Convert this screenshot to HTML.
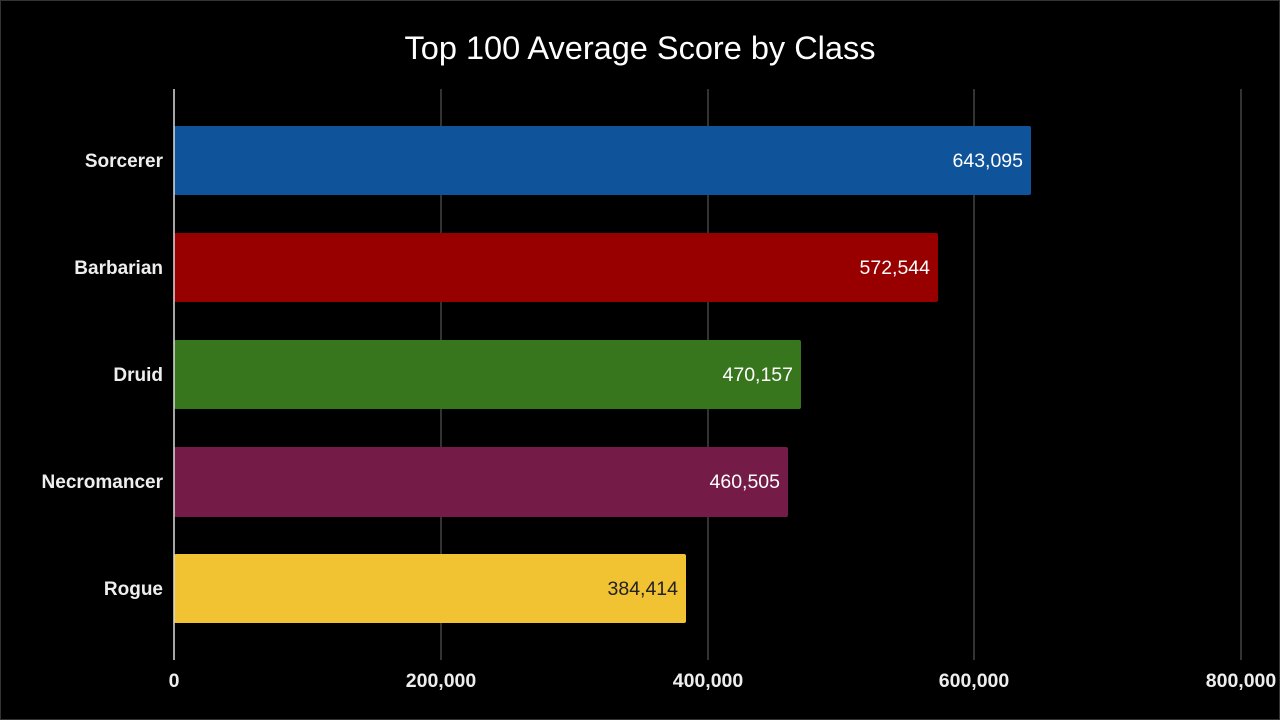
<!DOCTYPE html>
<html><head><style>
html,body{margin:0;padding:0;background:#000;}
svg{display:block;}
text{font-family:"Liberation Sans",Arial,sans-serif;}
</style></head><body>
<svg width="1280" height="720" viewBox="0 0 1280 720">
<rect x="0" y="0" width="1280" height="720" fill="#000"/>
<rect x="0.5" y="0.5" width="1279" height="719" fill="none" stroke="#333" stroke-width="1"/>
<text x="640" y="59" fill="#fff" font-size="32.5" text-anchor="middle">Top 100 Average Score by Class</text>
<g stroke="#444" stroke-width="1.5">
<line x1="441" y1="89" x2="441" y2="660"/>
<line x1="708" y1="89" x2="708" y2="660"/>
<line x1="974" y1="89" x2="974" y2="660"/>
<line x1="1241" y1="89" x2="1241" y2="660"/>
</g>
<rect x="174" y="126" width="857" height="69" fill="#0f549a" rx="2"/>
<rect x="174" y="233" width="764" height="69" fill="#980000" rx="2"/>
<rect x="174" y="340" width="627" height="69" fill="#38761d" rx="2"/>
<rect x="174" y="447" width="614" height="70" fill="#741b47" rx="2"/>
<rect x="174" y="554" width="512" height="69" fill="#f1c232" rx="2"/>
<line x1="174" y1="89" x2="174" y2="660" stroke="#ddd" stroke-width="1.5"/>
<g font-size="19.5" text-anchor="end">
<text x="1023" y="167" fill="#fff">643,095</text>
<text x="930" y="274" fill="#fff">572,544</text>
<text x="793" y="381" fill="#fff">470,157</text>
<text x="780" y="488" fill="#fff">460,505</text>
<text x="678" y="595" fill="#222">384,414</text>
</g>
<g font-size="19" text-anchor="end" fill="#eee" font-weight="bold">
<text x="163" y="167">Sorcerer</text>
<text x="163" y="274">Barbarian</text>
<text x="163" y="381">Druid</text>
<text x="163" y="488">Necromancer</text>
<text x="163" y="595">Rogue</text>
</g>
<g font-size="19.5" text-anchor="middle" fill="#eee" font-weight="bold">
<text x="174" y="687">0</text>
<text x="441" y="687">200,000</text>
<text x="708" y="687">400,000</text>
<text x="974" y="687">600,000</text>
<text x="1241" y="687">800,000</text>
</g>
</svg>
</body></html>
